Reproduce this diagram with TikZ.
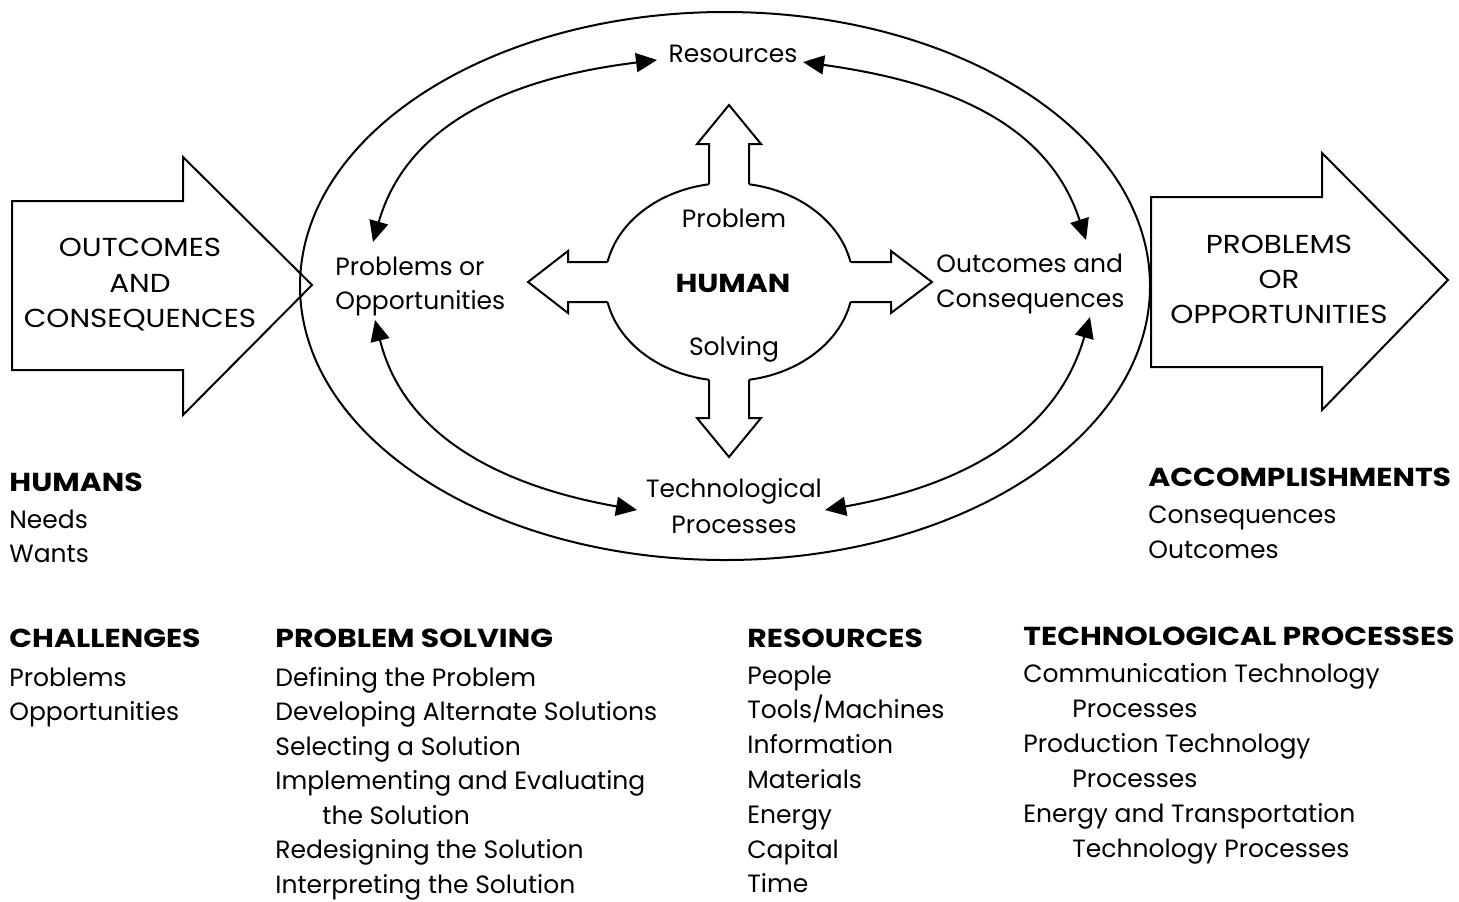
\documentclass[tikz,border=0pt]{standalone}
\usepackage{fontspec}
\setmainfont{Poppins}
\newfontfamily\hdrfam[FakeStretch=1.15]{Poppins}
\newfontfamily\capfam[FakeStretch=1.13]{Poppins}
\usetikzlibrary{arrows.meta}
\newcommand\lblfont{\fontsize{12.5pt}{15pt}\selectfont}
\newcommand\hdrfont{\hdrfam\bfseries\fontsize{13pt}{15pt}\selectfont}
\newcommand\capfont{\capfam\fontsize{13pt}{15pt}\selectfont}
\begin{document}
\begin{tikzpicture}[x=0.5pt,y=0.5pt,
  lbl/.style={inner sep=0pt, anchor=base west, font=\lblfont},
  clbl/.style={inner sep=0pt, anchor=base, font=\lblfont},
  caplbl/.style={inner sep=0pt, anchor=base, font=\capfont},
  hdr/.style={inner sep=0pt, anchor=base west, font=\hdrfont},
  bigline/.style={line width=1pt, line join=miter},
  shapeline/.style={line width=1pt, line join=miter},
  link/.style={line width=1pt, {Triangle[length=10.5pt,width=9.5pt]}-{Triangle[length=10.5pt,width=9.5pt]}}]
\useasboundingbox (0,0) rectangle (1459,-901);

% left big arrow
\draw[bigline] (12,-201) -- (183,-201) -- (183,-157) -- (312,-285) -- (183,-415) -- (183,-370) -- (12,-370) -- cycle;
% outer ellipse
\draw[bigline] (725,-286) ellipse [x radius=212.5pt, y radius=137pt];
% right big arrow
\filldraw[bigline, fill=white] (1151,-197) -- (1322,-197) -- (1322,-153) -- (1448,-280) -- (1322,-410) -- (1322,-367) -- (1151,-367) -- cycle;

% central human problem solving shape
\filldraw[shapeline, fill=white] (729,-282) ellipse [x radius=62pt, y radius=49.5pt];
\fill[white] (709,-196) -- (709,-144) -- (697,-144) -- (729,-105) -- (761,-144) -- (749,-144) -- (749,-196) -- cycle;
\draw[shapeline] (709,-184.3) -- (709,-144) -- (697,-144) -- (729,-105) -- (761,-144) -- (749,-144) -- (749,-184.3);
\fill[white] (709,-368) -- (709,-418) -- (697,-418) -- (729,-457) -- (761,-418) -- (749,-418) -- (749,-368) -- cycle;
\draw[shapeline] (709,-379.7) -- (709,-418) -- (697,-418) -- (729,-457) -- (761,-418) -- (749,-418) -- (749,-379.7);
\fill[white] (620,-262) -- (568,-262) -- (568,-251) -- (528,-282) -- (568,-313) -- (568,-302) -- (620,-302) -- cycle;
\draw[shapeline] (607.6,-262) -- (568,-262) -- (568,-251) -- (528,-282) -- (568,-313) -- (568,-302) -- (607.6,-302);
\fill[white] (838,-262) -- (891,-262) -- (891,-251) -- (932,-282) -- (891,-313) -- (891,-302) -- (838,-302) -- cycle;
\draw[shapeline] (850.4,-262) -- (891,-262) -- (891,-251) -- (932,-282) -- (891,-313) -- (891,-302) -- (850.4,-302);

% labels inside the big arrows
\node[caplbl] (oc1) at (140,-256) {OUTCOMES};
\node[caplbl] (oc2) at (140,-292) {AND};
\node[caplbl] (oc3) at (140,-327) {CONSEQUENCES};
\node[caplbl] (pr1) at (1279,-253) {PROBLEMS};
\node[caplbl] (pr2) at (1279,-288) {OR};
\node[caplbl] (pr3) at (1279,-323) {OPPORTUNITIES};

% labels in the ellipse
\node[clbl] (res) at (733,-62) {Resources};
\node[lbl] (po1) at (335,-275) {Problems or};
\node[lbl] (po2) at (335,-309) {Opportunities};
\node[lbl] (ocs1) at (936,-272) {Outcomes and};
\node[lbl] (ocs2) at (936,-307) {Consequences};
\node[clbl] (tp1) at (734,-497) {Technological};
\node[clbl] (tp2) at (734,-533) {Processes};
\node[clbl] (hp) at (734,-227) {Problem};
\node[clbl, font=\hdrfont] (hh) at (733,-292) {HUMAN};
\node[clbl] (hs) at (734,-355) {Solving};

% connector end points
\coordinate (aPOt) at (373,-242);
\coordinate (aResL) at (657,-60);
\coordinate (aResR) at (803,-62);
\coordinate (aOCt) at (1086,-240);
\coordinate (aPOb) at (375,-320);
\coordinate (aTPL) at (637,-510);
\coordinate (aTPR) at (825,-510);
\coordinate (aOCb) at (1090,-317);
\draw[link] (aPOt) to[out=74,in=187] (aResL);
\draw[link] (aResR) to[out=-8,in=108] (aOCt);
\draw[link] (aPOb) to[out=-76,in=170] (aTPL);
\draw[link] (aTPR) to[out=10,in=-106] (aOCb);

% side lists
\node[hdr] (humans) at (9,-491) {HUMANS};
\node[lbl] (needs) at (9,-528) {Needs};
\node[lbl] (wants) at (9,-562) {Wants};
\node[hdr] (acc) at (1148,-486) {ACCOMPLISHMENTS};
\node[lbl] (acc1) at (1148,-523) {Consequences};
\node[lbl] (acc2) at (1148,-558) {Outcomes};

% bottom lists
\node[hdr] (chal) at (9,-647) {CHALLENGES};
\node[lbl] (chal1) at (9,-686) {Problems};
\node[lbl] (chal2) at (9,-720.5) {Opportunities};

\node[hdr] (psh) at (275,-647) {PROBLEM SOLVING};
\foreach \t [count=\i from 0] in {Defining the Problem,Developing Alternate Solutions,Selecting a Solution,Implementing and Evaluating,\hspace*{23.5pt}the Solution,Redesigning the Solution,Interpreting the Solution}
  \node[lbl] (ps\i) at (275,{-(686+34.5*\i)}) {\t};

\node[hdr] (rsh) at (747,-647) {RESOURCES};
\foreach \t [count=\i from 0] in {People,Tools/Machines,Information,Materials,Energy,Capital,Time}
  \node[lbl] (rs\i) at (747,{-(684+34.8*\i)}) {\t};

\node[hdr] (tph) at (1023,-645) {TECHNOLOGICAL PROCESSES};
\foreach \t [count=\i from 0] in {Communication Technology,\hspace*{24.5pt}Processes,Production Technology,\hspace*{24.5pt}Processes,Energy and Transportation,\hspace*{24.5pt}Technology Processes}
  \node[lbl] (tl\i) at (1023,{-(682+35*\i)}) {\t};
\end{tikzpicture}
\end{document}
